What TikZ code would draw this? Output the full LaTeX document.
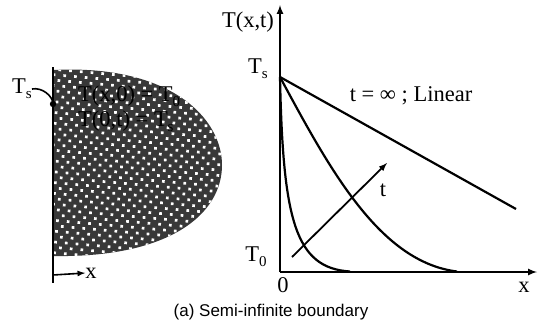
\documentclass[tikz,border=0pt]{standalone}
\usepackage{fontspec}
\setmainfont{Liberation Serif}
\newfontfamily\capfont{Liberation Sans}
\usetikzlibrary{arrows, math}

\newcommand{\Tsb}[1]{T\raisebox{-0.45ex}{\fontsize{15}{15}\selectfont #1}}

\begin{document}
\begin{tikzpicture}[x=1pt,y=-1pt,
  lbl/.style={font=\fontsize{22.5}{25}\selectfont, inner sep=0pt},
  crv/.style={line width=2.2pt}]
\tikzmath{
\wx=53;
\ox=280;
\oy=272;
\sy=77;
}
\useasboundingbox (0,0) rectangle (538,330);

%the medium:
\begin{scope}
\clip (\wx,70) .. controls (170,64) and (222,118) .. (222,165) .. controls (222,214) and (170,258) .. (\wx,256) -- cycle;
\fill[black!78] (0,0) rectangle (240,300);
\begin{scope}[shift={(138,163)},rotate=40]
\foreach \i in {-16,...,16}{
  \foreach \j in {-16,...,16}{
    \fill[white] (\i*7.6,\j*7.6) circle (1.9pt);
  }}
\end{scope}
\end{scope}
\node[lbl, anchor=west] (ic) at (78,96) {T(x,0) = \Tsb{0}};
\node[lbl, anchor=west] (bc) at (78,121) {T(0,t) = \Tsb{s}};

%the wall:
\draw[line width=2.5pt] (\wx,67) -- (\wx,283);
\coordinate (wdot) at (\wx,104);
\fill (wdot) circle (3.2pt);
\node[lbl] (tsl) at (22,89) {\Tsb{s}};
\draw[line width=1.6pt] (tsl.east) .. controls +(10,-2) and +(0,-8) .. (wdot);
\coordinate (xa) at (\wx,275);
\node[lbl] (xl) at (91,273) {x};
\draw[-latex, line width=1.6pt] (xa) -- (xl.west);

%the profiles:
\coordinate (O) at (\ox,\oy);
\coordinate (ytop) at (\ox,5);
\coordinate (xend) at (537,\oy);
\coordinate (Ts) at (\ox,\sy);
\draw[-latex, line width=2pt] (O) -- (ytop);
\draw[-latex, line width=2pt] (O) -- (xend);
\node[lbl] (Tl) at (248,22) {T(x,t)};
\node[lbl] (tsr) at (258,69) {\Tsb{s}};
\node[lbl] (t0) at (256,257) {\Tsb{0}};
\node[lbl] (zl) at (283,285) {0};
\node[lbl] (xr) at (524,287) {x};

\draw[crv] (Ts) -- (516,209);
\draw[crv] (Ts) .. controls (330,170) and (380,262) .. (457,271.5);
\draw[crv] (Ts) .. controls (283,220) and (295,268) .. (350,271.5);
\node[lbl] (lin) at (411,96) {t = ∞ ; Linear};

\coordinate (ta) at (292,257);
\coordinate (tb) at (387,163);
\draw[-latex, line width=1.8pt] (ta) -- (tb);
\node[lbl] (tl) at (383,190) {t};

\node[font=\capfont\fontsize{17}{19}\selectfont, inner sep=0pt] (cap) at (271,312) {(a) Semi-infinite boundary};
\end{tikzpicture}
\end{document}
